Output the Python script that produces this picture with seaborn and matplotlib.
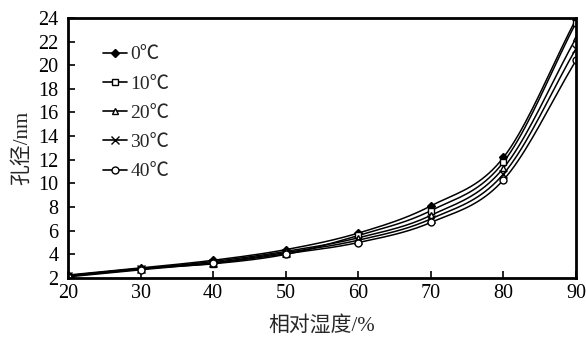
import numpy as np
import pandas as pd
import matplotlib
matplotlib.use("Agg")
import matplotlib.pyplot as plt
from matplotlib.lines import Line2D
import seaborn as sns

humidity = [20, 30, 40, 50, 60, 70, 80, 90]
labels = ["0℃", "10℃", "20℃", "30℃", "40℃"]
pore_0 = [2.25, 2.85, 3.5, 4.4, 5.8, 8.1, 12.2, 23.9]
pore_10 = [2.2, 2.8, 3.2, 4.0, 5.6, 7.7, 11.8, 23.6]
pore_20 = [2.2, 2.78, 3.4, 4.25, 5.4, 7.3, 11.3, 22.3]
pore_30 = [2.15, 2.75, 3.3, 4.15, 5.2, 7.0, 10.8, 21.4]
pore_40 = [2.1, 2.7, 3.25, 4.05, 5.0, 6.7, 10.3, 20.4]
series = [pore_0, pore_10, pore_20, pore_30, pore_40]
markers = ["D", "s", "^", "x", "o"]
marker_sizes = [4, 5, 5, 5.5, 5]
xticks = [20, 30, 40, 50, 60, 70, 80, 90]
yticks = [2, 4, 6, 8, 10, 12, 14, 16, 18, 20, 22, 24]

sns.set_theme(style="ticks")
plt.rcParams["font.family"] = ["Liberation Serif", "Noto Sans CJK SC"]


def smooth(x, y, n=20):
    # Catmull-Rom rendering of a line through the data points (display only)
    x = np.asarray(x, float); y = np.asarray(y, float)
    px = np.concatenate([[2 * x[0] - x[1]], x, [2 * x[-1] - x[-2]]])
    py = np.concatenate([[2 * y[0] - y[1]], y, [2 * y[-1] - y[-2]]])
    xs, ys = [], []
    t = np.linspace(0, 1, n, endpoint=False)
    for i in range(1, len(px) - 2):
        for arr, out in ((px, xs), (py, ys)):
            p0, p1, p2, p3 = arr[i - 1], arr[i], arr[i + 1], arr[i + 2]
            out.extend(0.5 * ((2 * p1) + (-p0 + p2) * t
                              + (2 * p0 - 5 * p1 + 4 * p2 - p3) * t ** 2
                              + (-p0 + 3 * p1 - 3 * p2 + p3) * t ** 3))
    xs.append(x[-1]); ys.append(y[-1])
    return np.array(xs), np.array(ys)


rows_line = []
rows_pt = []
for lab, vals in zip(labels, series):
    sx, sy = smooth(humidity, vals)
    for a, b in zip(sx, sy):
        rows_line.append({"x": a, "y": b, "s": lab})
    for a, b in zip(humidity, vals):
        rows_pt.append({"x": a, "y": b, "s": lab})
df_line = pd.DataFrame(rows_line)
df_pt = pd.DataFrame(rows_pt)

fig = plt.figure(figsize=(5.86, 3.37), dpi=100)
ax = fig.add_axes([0.116, 0.175, 0.867, 0.772])

sns.lineplot(data=df_line, x="x", y="y", hue="s", palette=["black"] * 5,
             linewidth=1.1, legend=False, ax=ax, sort=False, estimator=None)
for lab, m, ms in zip(labels, markers, marker_sizes):
    d = df_pt[df_pt["s"] == lab]
    fill = "black" if m in ("D", "x") else "white"
    ax.plot(d["x"], d["y"], linestyle="none", marker=m, markersize=ms,
            markerfacecolor=fill, markeredgecolor="black", markeredgewidth=1.0)

ax.set_xlim(20, 90)
ax.set_ylim(2, 24)
ax.set_xticks(xticks)
ax.set_yticks(yticks)
ax.tick_params(direction="in", length=5, width=1.2, labelsize=14.5,
               colors="black")
ax.tick_params(axis="x", pad=4)
ax.tick_params(axis="y", pad=7)
for sp in ax.spines.values():
    sp.set_visible(True)
    sp.set_linewidth(2)
    sp.set_color("black")
ax.set_xlabel("相对湿度/%", fontsize=15, labelpad=10)
ax.set_ylabel("孔径/nm", fontsize=15, labelpad=4)

handles = []
for lab, m, ms in zip(labels, markers, marker_sizes):
    fill = "black" if m in ("D", "x") else "white"
    handles.append(Line2D([0], [0], color="black", linewidth=1.2, marker=m,
                          markersize=ms, markerfacecolor=fill,
                          markeredgecolor="black"))
ax.legend(handles, labels, loc="upper left", bbox_to_anchor=(0.035, 0.96),
          frameon=False, fontsize=14, handlelength=1.2, handletextpad=0.2,
          labelspacing=0.6)

fig.savefig("out.png", dpi=100)
